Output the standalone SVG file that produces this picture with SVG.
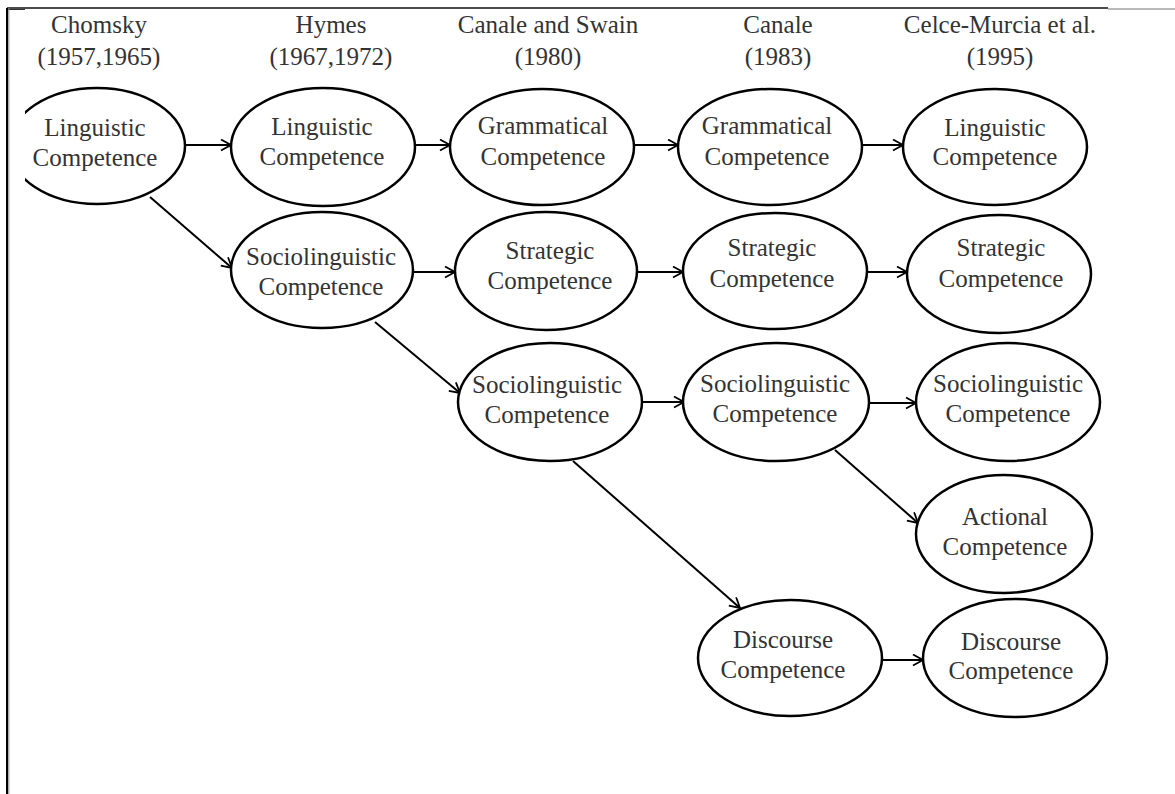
<svg xmlns="http://www.w3.org/2000/svg" width="1175" height="794" viewBox="0 0 1175 794">
<style>
.node ellipse{fill:#fff;stroke:#000;stroke-width:2.5}
.t{font-family:"Liberation Serif","Times New Roman",serif;font-size:25px;fill:#333;text-anchor:middle}
.edges line{stroke:#000;stroke-width:2;marker-end:url(#arr)}
</style>
<defs>
<marker id="arr" markerUnits="userSpaceOnUse" markerWidth="14" markerHeight="14" refX="11" refY="6" orient="auto">
<path d="M1,0.5 L11,6 L1,11.5" fill="none" stroke="#000" stroke-width="1.8"/>
</marker>
<clipPath id="clipL"><rect x="25" y="0" width="1150" height="794"/></clipPath>
</defs>
<rect width="1175" height="794" fill="#fff"/>
<g id="border">
<line x1="7" y1="8" x2="1108" y2="8" stroke="#111" stroke-width="1.5"/>
<line x1="1108" y1="9" x2="1175" y2="9" stroke="#777" stroke-width="1.2"/>
<line x1="7" y1="9.5" x2="25" y2="9.5" stroke="#333" stroke-width="1"/>
<line x1="7" y1="8" x2="7" y2="794" stroke="#000" stroke-width="2"/>
<line x1="8.8" y1="8" x2="8.8" y2="794" stroke="#888" stroke-width="1"/>
</g>
<g id="headers">
<text class="t" x="99" y="33">Chomsky</text><text class="t" x="99" y="65">(1957,1965)</text>
<text class="t" x="331" y="33">Hymes</text><text class="t" x="331" y="65">(1967,1972)</text>
<text class="t" x="548" y="33">Canale and Swain</text><text class="t" x="548" y="65">(1980)</text>
<text class="t" x="778" y="33">Canale</text><text class="t" x="778" y="65">(1983)</text>
<text class="t" x="1000" y="33">Celce-Murcia et al.</text><text class="t" x="1000" y="65">(1995)</text>
</g>
<g class="edges" id="connectors">
<line x1="185" y1="145" x2="231" y2="145"/>
<line x1="415" y1="145" x2="450" y2="145"/>
<line x1="634" y1="145" x2="678" y2="145"/>
<line x1="862" y1="145" x2="903" y2="145"/>
<line x1="150" y1="197" x2="232" y2="268"/>
<line x1="413" y1="272" x2="455" y2="272"/>
<line x1="637" y1="272" x2="683" y2="272"/>
<line x1="867" y1="272" x2="907" y2="272"/>
<line x1="375" y1="322" x2="460" y2="393"/>
<line x1="642" y1="402" x2="684" y2="402"/>
<line x1="869" y1="403" x2="916" y2="403"/>
<line x1="835" y1="450" x2="918" y2="523"/>
<line x1="573" y1="461" x2="740" y2="608"/>
<line x1="882" y1="660" x2="923" y2="660"/>
</g>
<g class="node" id="chomsky-linguistic"><ellipse cx="97" cy="146" rx="88" ry="58" clip-path="url(#clipL)"/><text class="t" x="95" y="136">Linguistic</text><text class="t" x="95" y="166">Competence</text></g>
<g class="node" id="hymes-linguistic"><ellipse cx="323" cy="147" rx="92" ry="59"/><text class="t" x="322" y="135">Linguistic</text><text class="t" x="322" y="165">Competence</text></g>
<g class="node" id="cs-grammatical"><ellipse cx="542" cy="147" rx="92" ry="58"/><text class="t" x="543" y="134">Grammatical</text><text class="t" x="543" y="165">Competence</text></g>
<g class="node" id="c-grammatical"><ellipse cx="770" cy="147" rx="92" ry="58"/><text class="t" x="767" y="134">Grammatical</text><text class="t" x="767" y="165">Competence</text></g>
<g class="node" id="cm-linguistic"><ellipse cx="995" cy="147" rx="92" ry="58"/><text class="t" x="995" y="136">Linguistic</text><text class="t" x="995" y="165">Competence</text></g>
<g class="node" id="hymes-sociolinguistic"><ellipse cx="322" cy="270" rx="91" ry="58"/><text class="t" x="321" y="265">Sociolinguistic</text><text class="t" x="321" y="295">Competence</text></g>
<g class="node" id="cs-strategic"><ellipse cx="546" cy="271" rx="91" ry="59"/><text class="t" x="550" y="259">Strategic</text><text class="t" x="550" y="289">Competence</text></g>
<g class="node" id="c-strategic"><ellipse cx="775" cy="271" rx="92" ry="58"/><text class="t" x="772" y="256">Strategic</text><text class="t" x="772" y="287">Competence</text></g>
<g class="node" id="cm-strategic"><ellipse cx="999" cy="274" rx="92" ry="59"/><text class="t" x="1001" y="256">Strategic</text><text class="t" x="1001" y="287">Competence</text></g>
<g class="node" id="cs-sociolinguistic"><ellipse cx="550" cy="402" rx="92" ry="59"/><text class="t" x="547" y="393">Sociolinguistic</text><text class="t" x="547" y="423">Competence</text></g>
<g class="node" id="c-sociolinguistic"><ellipse cx="776" cy="402" rx="93" ry="59"/><text class="t" x="775" y="392">Sociolinguistic</text><text class="t" x="775" y="422">Competence</text></g>
<g class="node" id="cm-sociolinguistic"><ellipse cx="1008" cy="402" rx="92" ry="59"/><text class="t" x="1008" y="392">Sociolinguistic</text><text class="t" x="1008" y="422">Competence</text></g>
<g class="node" id="cm-actional"><ellipse cx="1004" cy="534" rx="88" ry="59"/><text class="t" x="1005" y="525">Actional</text><text class="t" x="1005" y="555">Competence</text></g>
<g class="node" id="c-discourse"><ellipse cx="790" cy="658" rx="92" ry="58"/><text class="t" x="783" y="648">Discourse</text><text class="t" x="783" y="678">Competence</text></g>
<g class="node" id="cm-discourse"><ellipse cx="1015" cy="658" rx="92" ry="59"/><text class="t" x="1011" y="650">Discourse</text><text class="t" x="1011" y="679">Competence</text></g>
</svg>
